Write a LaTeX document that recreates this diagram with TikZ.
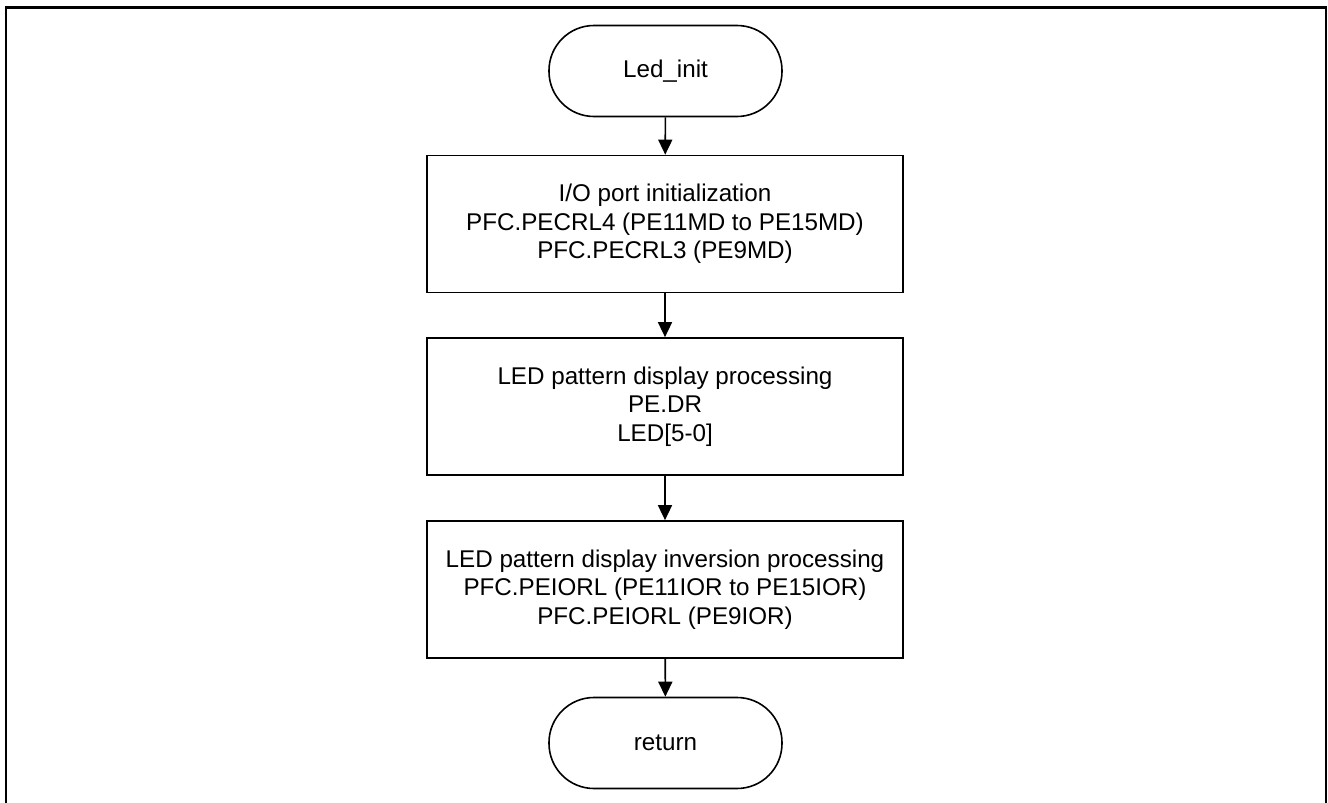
\documentclass[tikz,border=0pt]{standalone}
\usepackage{fontspec}
\setmainfont{Liberation Sans}
\usetikzlibrary{arrows.meta}
\begin{document}
\begin{tikzpicture}[x=1pt,y=-1pt,
  flowtext/.style={font=\fontsize{24.2}{28.6}\selectfont, align=center, inner sep=0pt},
  terminal/.style={flowtext, draw, line width=1.6pt, rectangle, rounded corners=45pt,
    minimum width=233pt, minimum height=91pt},
  process/.style={flowtext, draw, line width=1.7pt, rectangle,
    minimum width=476pt, minimum height=137pt},
  flow/.style={line width=1.6pt, -{Triangle[width=14pt,length=15pt]}}]
  \useasboundingbox (0,0) rectangle (1328,803);
  % open frame around the chart
  \draw[line width=2.4pt] (6,803) -- (6,7.5) -- (1326,7.5) -- (1326,803);

  \node[terminal] (start) at (665.5,71) {Led\_init};
  \node[process] (portinit) at (665,224)
    {I/O port initialization\\PFC.PECRL4 (PE11MD to PE15MD)\\PFC.PECRL3 (PE9MD)};
  \node[process] (pattern) at (665,406.5)
    {LED pattern display processing\\PE.DR\\LED[5-0]};
  \node[process] (invert) at (665,589.5)
    {LED pattern display inversion processing\\PFC.PEIORL (PE11IOR to PE15IOR)\\PFC.PEIORL (PE9IOR)};
  \node[terminal] (ret) at (665.5,743) {return};

  \draw[flow] (start) -- (portinit);
  \draw[flow] (portinit) -- (pattern);
  \draw[flow] (pattern) -- (invert);
  \draw[flow] (invert) -- (ret);
\end{tikzpicture}
\end{document}
